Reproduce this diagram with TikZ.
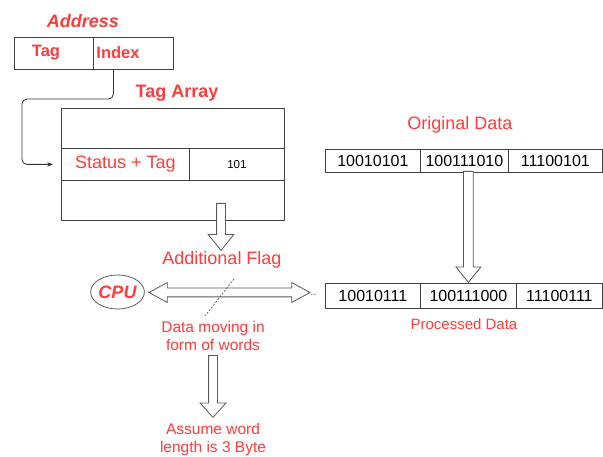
\documentclass[tikz,border=0pt]{standalone}
\usepackage{fontspec}
\setmainfont{Liberation Sans}
\usetikzlibrary{positioning,arrows.meta,shapes.geometric,shapes.arrows}
\definecolor{flag}{HTML}{FF3B3B}
\definecolor{edge}{HTML}{5A5A5A}
\tikzset{
  cell/.style={draw=black!75, line width=0.8pt, anchor=north west, inner sep=0pt, font=\fontsize{16}{18}\selectfont},
  title/.style={text=flag, font=\bfseries\fontsize{18}{21}\selectfont},
  note/.style={text=flag, font=\fontsize{18}{21}\selectfont},
  small/.style={text=flag, align=center, font=\fontsize{15.5}{18}\selectfont},
  down/.style={single arrow, draw=edge, line width=0.8pt, fill=white, shape border rotate=270, anchor=tip, inner sep=4pt, single arrow head extend=8.5pt, single arrow tip angle=78},
  conn/.style={-{Stealth[length=2mm]}, black!80, line width=0.8pt, rounded corners=5pt},
  dots/.style={edge, line width=0.8pt, dash pattern=on 1pt off 2pt}}

\begin{document}
\begin{tikzpicture}[x=1pt, y=-1pt]
\useasboundingbox (0,0) rectangle (603,457);
% address
\node[title, font=\bfseries\itshape\fontsize{18}{21}\selectfont] (addr) at (83,21) {Address};
\node[cell, minimum width=79pt, minimum height=32pt] (tagc) at (14,37) {};
\node[cell, minimum width=80pt, minimum height=32pt] (idxc) at (93,37) {};
\node[title, font=\bfseries\fontsize{16.5}{19}\selectfont] (tag) at (46,53) {Tag};
\node[title, font=\bfseries\fontsize{16.5}{19}\selectfont] (idx) at (118,53) {Index};
% tag array
\node[title] (tarr) at (177,93) {Tag Array};
\node[cell, minimum width=223pt, minimum height=40pt] (row1) at (61,108) {};
\node[cell, minimum width=128pt, minimum height=32pt, text=flag, font=\fontsize{18}{21}\selectfont] (stat) at (61,148) {Status + Tag};
\node[cell, minimum width=95pt, minimum height=32pt, font=\fontsize{11.5}{13}\selectfont] (val) at (189,148) {101};
\node[cell, minimum width=223pt, minimum height=40pt] (row3) at (61,180) {};
\draw[conn, shorten >=8pt] ([xshift=-20pt]idxc.south) |- (22,99) |- (stat.west);
\node[down, minimum height=47pt] (flagarr) at (221,251) {};
\node[note] (flag) at (222,260) {Additional Flag};
% data rows
\node[note] (orig) at (460,125) {Original Data};
\node[cell, minimum width=95pt, minimum height=23pt] (o1) at (325,149) {10010101};
\node[cell, minimum width=88pt, minimum height=23pt] (o2) at (420,149) {100111010};
\node[cell, minimum width=94pt, minimum height=23pt] (o3) at (508,149) {11100101};
\node[cell, minimum width=95pt, minimum height=25pt] (p1) at (325,283) {10010111};
\node[cell, minimum width=96pt, minimum height=25pt] (p2) at (420,283) {100111000};
\node[cell, minimum width=86pt, minimum height=25pt] (p3) at (516,283) {11100111};
\node[small, font=\fontsize{15}{18}\selectfont] (proc) at (464,324) {Processed Data};
\node[down, minimum height=111pt, inner sep=4.5pt, single arrow head extend=7.5pt] (procarr) at (p2.north) {};
% cpu and bus
\node[ellipse, draw=edge, line width=0.8pt, minimum width=49pt, minimum height=34pt, inner sep=0pt, text=flag, font=\bfseries\itshape\fontsize{18}{21}\selectfont] (cpu) at (117.5,292) {CPU};
\node[double arrow, draw=edge, line width=0.8pt, fill=white, inner sep=4pt, double arrow head extend=5.5pt, double arrow tip angle=57, minimum height=161pt] (bus) at (229.5,292.5) {};
\draw[dots, shorten <=4pt, shorten >=1pt] (cpu) -- (bus);
\draw[dots, shorten <=4pt, shorten >=9pt] (bus) -- (p1);
\draw[edge, line width=0.7pt, dash pattern=on 2pt off 1.5pt] (234,279) -- (205,316);
\node[small] (words) at (213,336) {Data moving in\\form of words};
\node[down, minimum height=62pt, single arrow tip angle=84] (wordarr) at (213,418) {};
\node[small] (assume) at (213,439) {Assume word\\length is 3 Byte};
\end{tikzpicture}
\end{document}
